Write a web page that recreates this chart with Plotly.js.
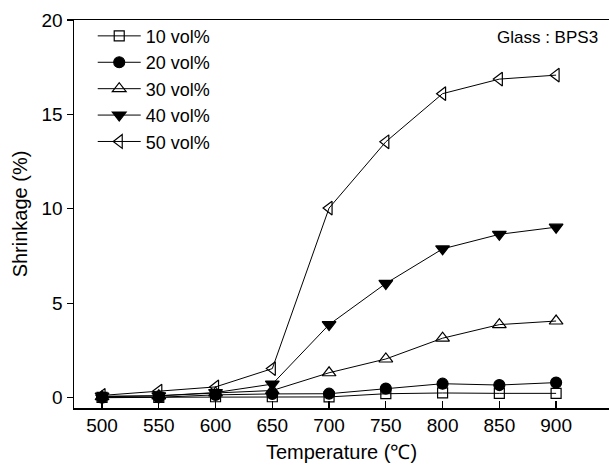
<!DOCTYPE html>
<html>
<head>
<meta charset="utf-8">
<script src="https://cdn.plot.ly/plotly-3.0.1.min.js"></script>
<style>html,body{margin:0;padding:0;background:#fff;}#chart{width:609px;height:469px;}</style>
</head>
<body>
<div id="chart"></div>
<script>
const temperature = [500, 550, 600, 650, 700, 750, 800, 850, 900];
const vol10 = [0.02, 0.02, 0.05, 0.05, 0.04, 0.21, 0.25, 0.23, 0.23];
const vol20 = [0.0, 0.02, 0.15, 0.2, 0.21, 0.48, 0.74, 0.67, 0.8];
const vol30 = [0.05, 0.1, 0.25, 0.38, 1.32, 2.05, 3.15, 3.87, 4.06];
const vol40 = [0.08, 0.1, 0.27, 0.72, 3.87, 6.05, 7.88, 8.65, 9.03];
const vol50 = [0.12, 0.35, 0.57, 1.54, 10.04, 13.55, 16.1, 16.87, 17.08];
const seriesNames = ['10 vol%', '20 vol%', '30 vol%', '40 vol%', '50 vol%'];
const xTicks = [500, 550, 600, 650, 700, 750, 800, 850, 900];
const yTicks = [0, 5, 10, 15, 20];

const FONT = '"Liberation Sans", Arial, sans-serif';
const styles = [
  {symbol: 'square-open', size: 10},
  {symbol: 'circle', size: 11},
  {symbol: 'triangle-up-open', size: 12},
  {symbol: 'triangle-down', size: 12},
  {symbol: 'triangle-left-open', size: 12}
];
const data = [vol10, vol20, vol30, vol40, vol50].map((ys, i) => ({
  x: temperature, y: ys, name: seriesNames[i], type: 'scatter', mode: 'lines+markers',
  legendgroup: 'g' + i,
  line: {color: '#000', width: 1},
  marker: {symbol: styles[i].symbol, size: styles[i].size, color: '#000', line: {color: '#000', width: 1.2}}
}));

const layout = {
  width: 609, height: 469,
  margin: {l: 74, r: 0, t: 20, b: 61},
  paper_bgcolor: '#fff', plot_bgcolor: '#fff',
  font: {family: FONT, color: '#000', size: 18},
  showlegend: true,
  legend: {x: 0.035, y: 1.006, xanchor: 'left', yanchor: 'top', bgcolor: 'rgba(0,0,0,0)',
    font: {family: FONT, size: 18, color: '#000'}, traceorder: 'grouped', tracegroupgap: 0,
    itemwidth: 43},
  xaxis: {range: [475.3, 946.6], tickvals: xTicks, ticktext: xTicks.map(String),
    ticks: 'inside', ticklen: 7, tickwidth: 1.2, tickcolor: '#000',
    showline: true, linecolor: '#000', linewidth: 1.5, mirror: true, showgrid: false, zeroline: false,
    tickfont: {family: FONT, size: 19}, title: {text: 'Temperature (℃)', font: {family: FONT, size: 20}, standoff: 9}},
  yaxis: {range: [-0.546, 20], tickvals: yTicks, ticktext: yTicks.map(String),
    ticks: 'outside', ticklen: 6, tickwidth: 1.2, tickcolor: '#000',
    showline: true, linecolor: '#000', linewidth: 1.5, showgrid: false, zeroline: false,
    tickfont: {family: FONT, size: 19}, title: {text: 'Shrinkage (%)', font: {family: FONT, size: 20}, standoff: 8}},
  annotations: [{text: 'Glass : BPS3', xref: 'paper', yref: 'paper', x: 0.983, y: 0.985,
    xanchor: 'right', yanchor: 'top', showarrow: false, font: {family: FONT, size: 17, color: '#000'}}]
};
Plotly.newPlot('chart', data, layout, {displayModeBar: false, staticPlot: true});
</script>
</body>
</html>
